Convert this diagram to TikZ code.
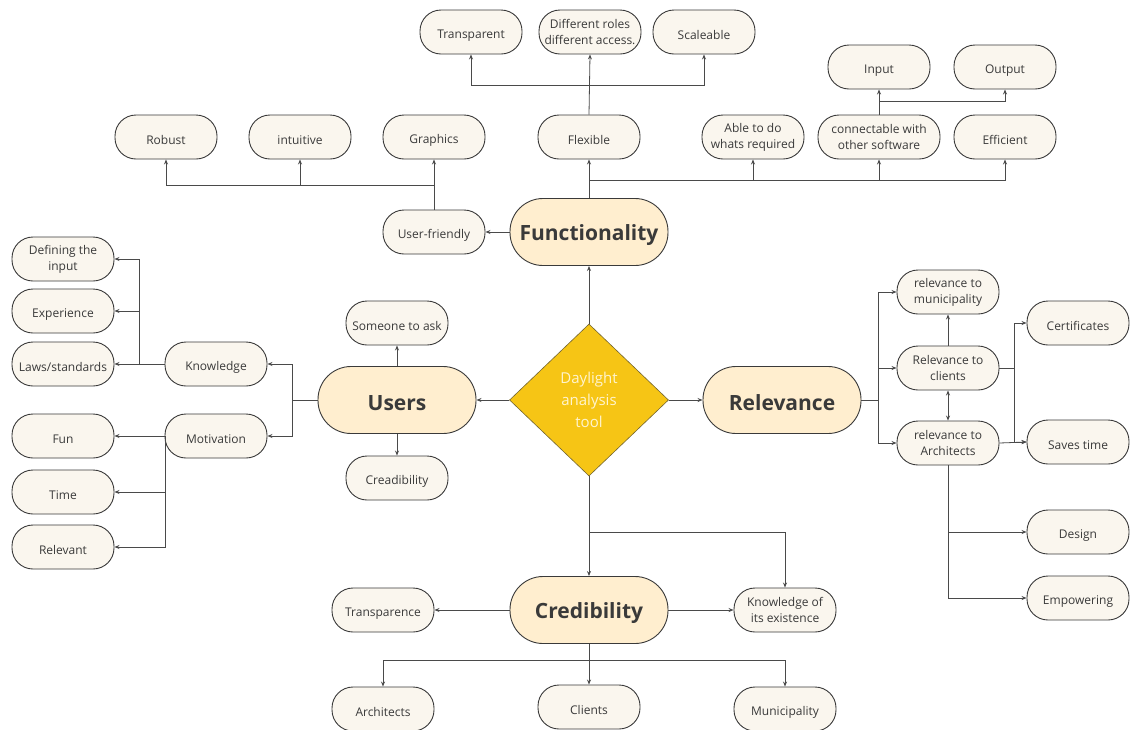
\documentclass[tikz,border=0pt]{standalone}
\usepackage{fontspec}
\setmainfont{Open Sans}
\usetikzlibrary{arrows.meta,shapes.geometric}
\definecolor{ink}{HTML}{3A3A3A}
\definecolor{wire}{HTML}{4A4A4A}
\definecolor{cream}{HTML}{FAF6EE}
\definecolor{peach}{HTML}{FFEECF}
\definecolor{gold}{HTML}{F6C515}
\definecolor{goldtext}{HTML}{FFF4CF}
\tikzset{
  leaf/.style={draw=ink, line width=0.9pt, fill=cream, rounded corners=21pt,
    minimum width=102pt, minimum height=44pt, inner sep=2pt, align=center,
    text=ink, font=\fontsize{12}{16}\selectfont,
    execute at begin node={\rule{0pt}{15pt}}},
  twoline/.style={execute at begin node={\rule{0pt}{17pt}}},
  hub/.style={draw=ink, line width=0.9pt, fill=peach, rounded corners=33pt,
    minimum width=158pt, minimum height=67pt, align=center, text=ink,
    font=\fontsize{21}{25}\selectfont\bfseries,
    execute at begin node={\rule{0pt}{22pt}}},
  core/.style={diamond, draw=ink!70!gold, line width=0.6pt, fill=gold, aspect=1.05,
    minimum width=159pt, minimum height=152pt, inner sep=0pt, align=center,
    text=goldtext, font=\fontsize{15}{22}\selectfont,
    execute at begin node={\rule{0pt}{13pt}}},
  arr/.style={draw=wire, line width=0.8pt, -{Stealth[length=5pt,width=4pt]}},
  link/.style={draw=wire, line width=0.8pt},
}
\begin{document}
\begin{tikzpicture}[x=1pt,y=-1pt]
\useasboundingbox[fill=white] (0,0) rectangle (1131,729);

% central node and the four themes
\node[core] (tool) at (589,400) {Daylight\\analysis\\tool};
\node[hub] (func) at (589,232) {Functionality};
\node[hub] (users) at (397,400) {Users};
\node[hub] (rel) at (782,400) {Relevance};
\node[hub] (cred) at (589,610) {Credibility};

% functionality branch
\node[leaf] (transp) at (471,32) {Transparent};
\node[leaf, twoline] (roles) at (590,32) {Different roles\\different access.};
\node[leaf] (scal) at (704,32) {Scaleable};
\node[leaf] (input) at (879,67) {Input};
\node[leaf] (output) at (1005,67) {Output};
\node[leaf] (robust) at (166,137) {Robust};
\node[leaf] (intuit) at (300,137) {intuitive};
\node[leaf] (graph) at (434,137) {Graphics};
\node[leaf] (flex) at (589,137) {Flexible};
\node[leaf, twoline] (able) at (753,137) {Able to do\\whats required};
\node[leaf, twoline, minimum width=122pt] (conn) at (879,137) {connectable with\\other software};
\node[leaf] (effic) at (1005,137) {Efficient};
\node[leaf] (ufr) at (434,232) {User-friendly};

% users branch
\node[leaf] (ask) at (397,323) {Someone to ask};
\node[leaf] (creadi) at (397,478) {Creadibility};
\node[leaf] (know) at (216,364) {Knowledge};
\node[leaf] (motiv) at (216,436) {Motivation};
\node[leaf, twoline] (define) at (63,259) {Defining the\\input};
\node[leaf] (exper) at (63,311) {Experience};
\node[leaf] (laws) at (63,364) {Laws/standards};
\node[leaf] (fun) at (63,436) {Fun};
\node[leaf] (time) at (63,492) {Time};
\node[leaf] (relev) at (63,547) {Relevant};

% relevance branch
\node[leaf, twoline] (rmun) at (948,292) {relevance to\\municipality};
\node[leaf, twoline] (rcli) at (948,368) {Relevance to\\clients};
\node[leaf, twoline] (rarc) at (948,443) {relevance to\\Architects};
\node[leaf] (cert) at (1078,323) {Certificates};
\node[leaf] (saves) at (1078,442) {Saves time};
\node[leaf] (design) at (1078,532) {Design};
\node[leaf] (empow) at (1078,598) {Empowering};

% credibility branch
\node[leaf] (transpc) at (383,610) {Transparence};
\node[leaf, twoline] (kexist) at (785,610) {Knowledge of\\its existence};
\node[leaf] (carch) at (383,709) {Architects};
\node[leaf] (cclient) at (589,707) {Clients};
\node[leaf] (cmun) at (785,709) {Municipality};

% junction points
\coordinate (jflex) at (589,85);
\coordinate (jfunc) at (589,180);
\coordinate (jconn) at (879,101);
\coordinate (jufr) at (434,185);
\coordinate (jusers) at (292,400);
\coordinate (jknow) at (139,364);
\coordinate (jmotiv) at (165,436);
\coordinate (jrel) at (878,400);
\coordinate (jcli) at (1014,368);
\coordinate (jarc) at (948,532);
\coordinate (jtool) at (589,532);
\coordinate (jcred) at (589,660);

% hub connections
\draw[arr] (tool.north) -- (func.south);
\draw[arr] (tool.west) -- (users.east);
\draw[arr] (tool.east) -- (rel.west);
\draw[arr] (tool.south) -- (cred.north);
\draw[arr] (jtool) -| (kexist.north);

% functionality
\draw[arr] (func.north) -- (flex.south);
\draw[arr] (flex.north) -- (roles.south);
\draw[arr] (jflex) -| (transp.south);
\draw[arr] (jflex) -| (scal.south);
\draw[arr] (jfunc) -| (able.south);
\draw[arr] (jfunc) -| (conn.south);
\draw[arr] (jfunc) -| (effic.south);
\draw[arr] (conn.north) -- (input.south);
\draw[arr] (jconn) -| (output.south);
\draw[arr] (func.west) -- (ufr.east);
\draw[arr] (ufr.north) -- (graph.south);
\draw[arr] (jufr) -| (intuit.south);
\draw[arr] (jufr) -| (robust.south);

% users
\draw[arr] (users.north) -- (ask.south);
\draw[arr] (users.south) -- (creadi.north);
\draw[link] (users.west) -- (jusers);
\draw[arr] (jusers) |- (know.east);
\draw[arr] (jusers) |- (motiv.east);
\draw[arr] (know.west) -- (laws.east);
\draw[arr] (jknow) |- (exper.east);
\draw[arr] (jknow) |- (define.east);
\draw[arr] (motiv.west) -- (fun.east);
\draw[arr] (jmotiv) |- (time.east);
\draw[arr] (jmotiv) |- (relev.east);

% relevance
\draw[link] (rel.east) -- (jrel);
\draw[arr] (jrel) |- (rmun.west);
\draw[arr] (jrel) |- (rcli.west);
\draw[arr] (jrel) |- (rarc.west);
\draw[arr] (rcli.north) -- (rmun.south);
\draw[draw=wire, line width=0.8pt, {Stealth[length=5pt,width=4pt]}-{Stealth[length=5pt,width=4pt]}] (rcli.south) -- (rarc.north);
\draw[link] (rcli.east) -- (jcli);
\draw[arr] (jcli) |- (cert.west);
\draw[arr] (jcli) |- (saves.west);
\draw[arr] (rarc.east) -- (saves.west);
\draw[link] (rarc.south) -- (jarc);
\draw[arr] (jarc) -- (design.west);
\draw[arr] (jarc) |- (empow.west);

% credibility
\draw[arr] (cred.west) -- (transpc.east);
\draw[arr] (cred.east) -- (kexist.west);
\draw[arr] (cred.south) -- (cclient.north);
\draw[arr] (jcred) -| (carch.north);
\draw[arr] (jcred) -| (cmun.north);
\end{tikzpicture}
\end{document}
